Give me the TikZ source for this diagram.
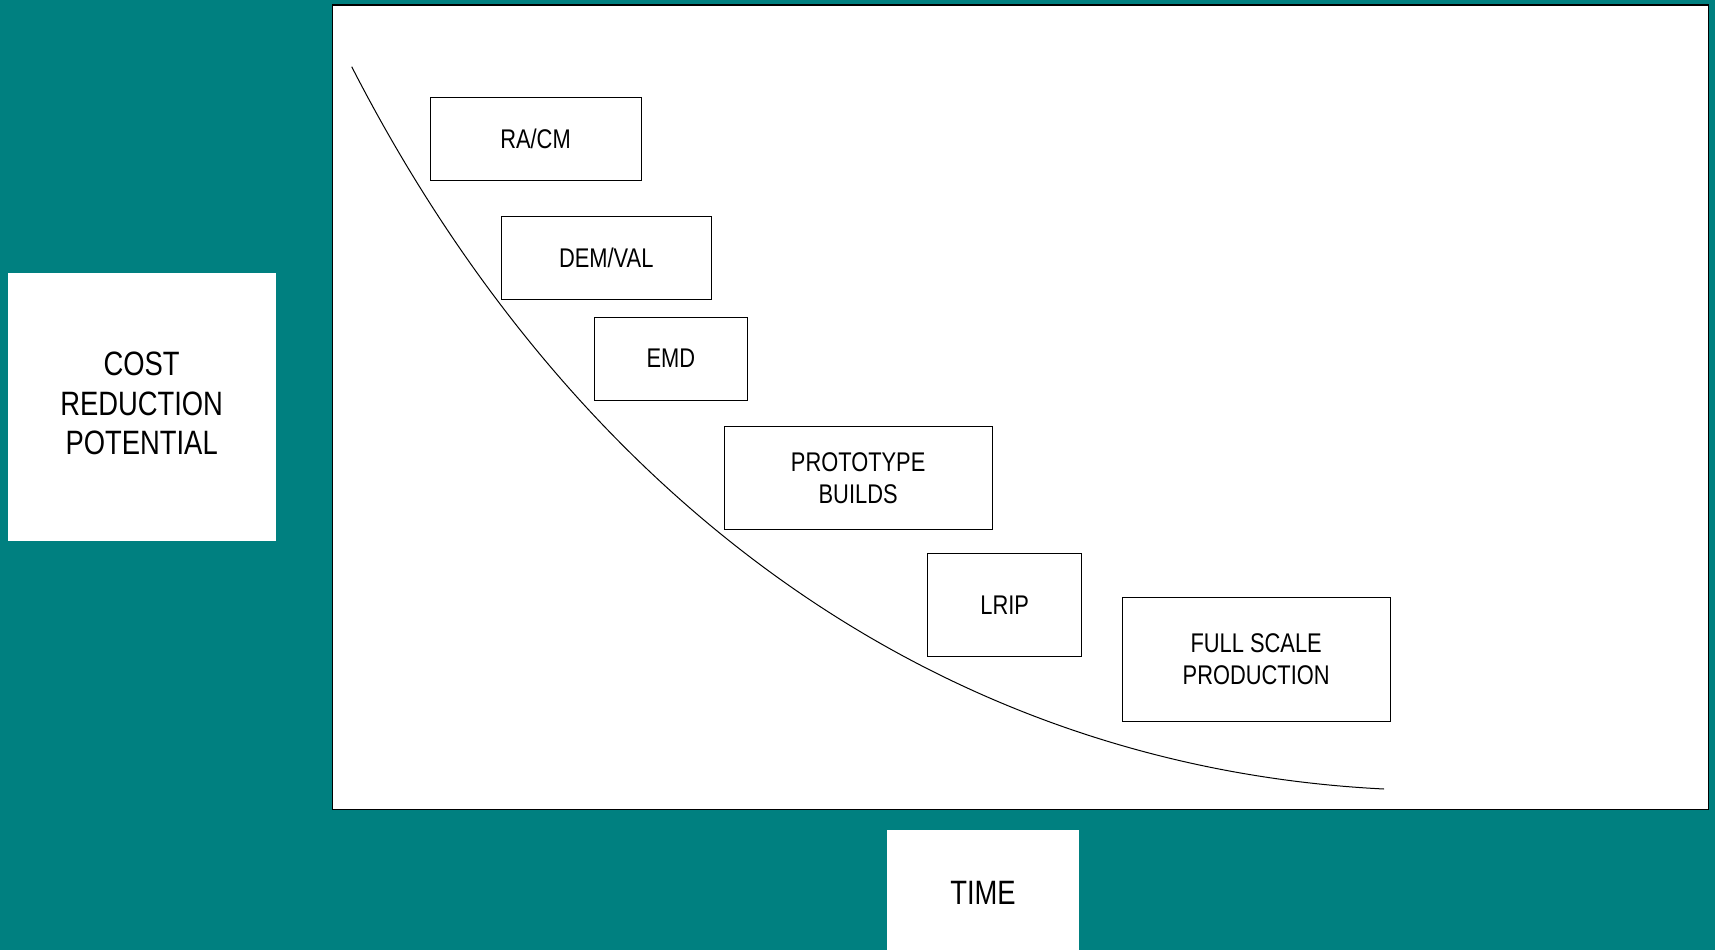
\documentclass[tikz,border=0pt]{standalone}
\usepackage{fontspec}
\setmainfont{Liberation Sans}[FakeStretch=0.81]
\begin{document}
\begin{tikzpicture}[x=1bp,y=-1bp,
  stage/.style={draw=black, line width=1bp, fill=white, inner sep=0pt, align=center,
                font=\fontsize{27bp}{32bp}\selectfont},
  axislabel/.style={fill=white, inner sep=0pt, align=center,
                font=\fontsize{33.8bp}{39.4bp}\selectfont}]
\definecolor{teal}{RGB}{0,128,128}
% background
\fill[teal] (0,0) rectangle (1715,950);
\useasboundingbox (0,0) rectangle (1715,950);
% plot panel
\node[draw=black, line width=1.5bp, fill=white, inner sep=0pt,
      minimum width=1375.9bp, minimum height=804.4bp] (panel) at (1020.45,407.2) {};
% axis labels
\node[axislabel, minimum width=268bp, minimum height=268bp] (cost) at (141.65,407.4)
  {\raisebox{-0.5bp}{\begin{tabular}{@{}c@{}}COST\\REDUCTION\\POTENTIAL\end{tabular}}};
\node[axislabel, minimum width=192bp, minimum height=130bp] (time) at (983,895)
  {\raisebox{5bp}{TIME}};
% cost reduction curve
\coordinate (cstart) at (351.7,66.7);
\coordinate (cend) at (1384,789);
\draw[line width=1bp] (cstart) .. controls (571.7,495.7) and (934,766.5) .. (cend);
% program phases
\node[stage, minimum width=211bp, minimum height=82.3bp] (racm) at (535.5,138.85) {RA/CM};
\node[stage, minimum width=210.5bp, minimum height=82.3bp] (demval) at (606.25,257.85) {DEM/VAL};
\node[stage, minimum width=153bp, minimum height=82.7bp] (emd) at (670.8,358.65) {EMD};
\node[stage, minimum width=267.7bp, minimum height=102.6bp] (proto) at (858.15,478) {PROTOTYPE\\BUILDS};
\node[stage, minimum width=154.3bp, minimum height=103.1bp] (lrip) at (1004.65,604.95) {LRIP};
\node[stage, minimum width=267.6bp, minimum height=124bp] (fsp) at (1256.2,659) {FULL SCALE\\PRODUCTION};
\end{tikzpicture}
\end{document}
